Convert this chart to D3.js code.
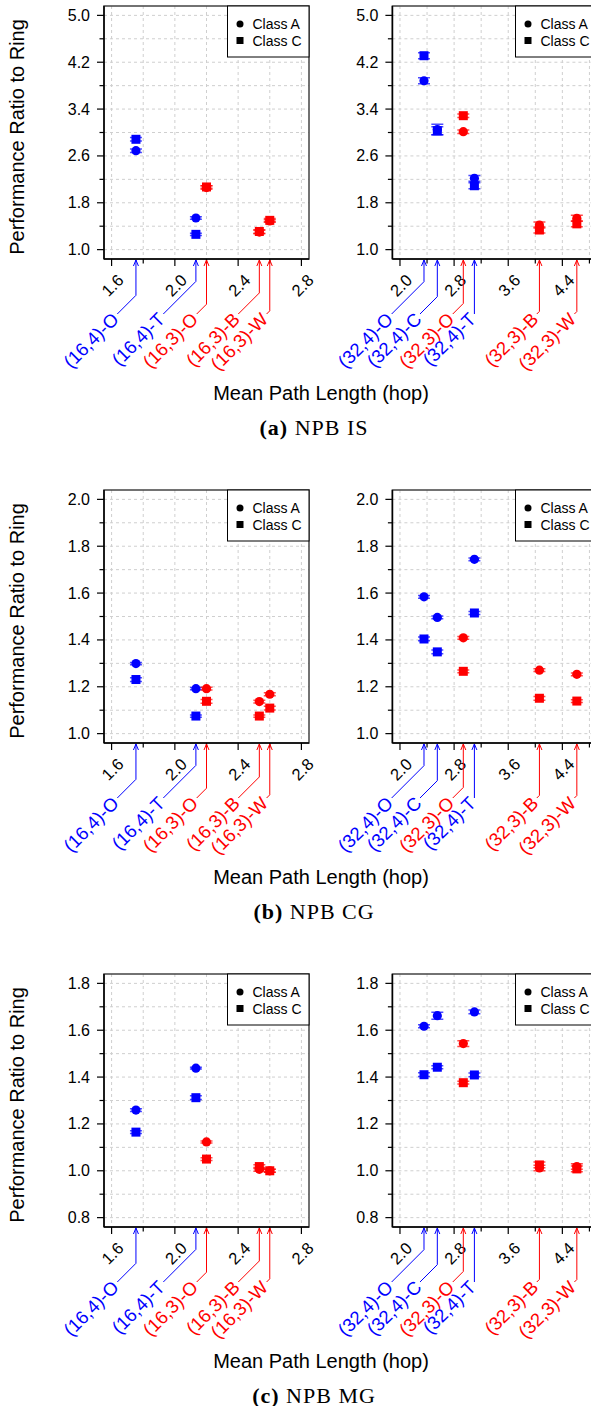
<!DOCTYPE html>
<html>
<head>
<meta charset="utf-8">
<script src="https://d3js.org/d3.v7.min.js"></script>
<style>
body { margin: 0; background: #fff; }
svg { display: block; font-family: "Liberation Sans", Arial, sans-serif; }
</style>
</head>
<body>
<svg></svg>
<script>
var w = 591, h = 1406
var blue = "#0000ff", red = "#ff0000"

// topologies, colours and mean path length (hop)
var names16 = ["(16,4)-O", "(16,4)-T", "(16,3)-O", "(16,3)-B", "(16,3)-W"]
var colors16 = [blue, blue, red, red, red]
var mpl16 = [1.754, 2.133, 2.2, 2.534, 2.6]
var labelAt16 = [1.636, 1.927, 2.138, 2.401, 2.58]   // where each label text ends

var names32 = ["(32,4)-O", "(32,4)-C", "(32,3)-O", "(32,4)-T", "(32,3)-B", "(32,3)-W"]
var colors32 = [blue, blue, red, blue, red, red]
var mpl32 = [2.355, 2.552, 2.936, 3.1, 4.061, 4.614]
var labelAt32 = [1.877, 2.296, 2.78, 3.1, 4.022, 4.578]

// x ticks
var xTicks16 = [1.6, 1.8, 2.0, 2.2, 2.4, 2.6, 2.8]
var xLabels16 = [1.6, 2.0, 2.4, 2.8]
var xTicks32 = [2.0, 2.4, 2.8, 3.2, 3.6, 4.0, 4.4, 4.8]
var xLabels32 = [2.0, 2.8, 3.6, 4.4]

// (a) NPB IS
var isYTicks = [1.0, 1.4, 1.8, 2.2, 2.6, 3.0, 3.4, 3.8, 4.2, 4.6, 5.0]
var isYLabels = [1.0, 1.8, 2.6, 3.4, 4.2, 5.0]
var isA16 = [2.689, 1.54, 2.06, 1.30, 1.49]
var isA16err = [0.03, 0.02, 0.03, 0.03, 0.02]
var isC16 = [2.884, 1.261, 2.07, 1.31, 1.50]
var isC16err = [0.03, 0.02, 0.02, 0.03, 0.03]
var isA32 = [3.884, 3.05, 3.014, 2.217, 1.42, 1.535]
var isA32err = [0.05, 0.09, 0.03, 0.05, 0.05, 0.05]
var isC32 = [4.311, 3.03, 3.287, 2.091, 1.335, 1.44]
var isC32err = [0.05, 0.07, 0.03, 0.05, 0.05, 0.05]

// (b) NPB CG
var cgYTicks = [1.0, 1.1, 1.2, 1.3, 1.4, 1.5, 1.6, 1.7, 1.8, 1.9, 2.0]
var cgYLabels = [1.0, 1.2, 1.4, 1.6, 1.8, 2.0]
var cgA16 = [1.299, 1.192, 1.192, 1.137, 1.168]
var cgA16err = [0.005, 0.005, 0.006, 0.006, 0.006]
var cgC16 = [1.231, 1.075, 1.138, 1.075, 1.109]
var cgC16err = [0.008, 0.005, 0.008, 0.005, 0.008]
var cgA32 = [1.584, 1.496, 1.409, 1.744, 1.271, 1.253]
var cgA32err = [0.006, 0.006, 0.006, 0.006, 0.006, 0.006]
var cgC32 = [1.404, 1.349, 1.266, 1.515, 1.151, 1.139]
var cgC32err = [0.008, 0.008, 0.006, 0.006, 0.008, 0.006]

// (c) NPB MG
var mgYTicks = [0.8, 0.9, 1.0, 1.1, 1.2, 1.3, 1.4, 1.5, 1.6, 1.7, 1.8]
var mgYLabels = [0.8, 1.0, 1.2, 1.4, 1.6, 1.8]
var mgA16 = [1.259, 1.438, 1.123, 1.006, 1.0]
var mgA16err = [0.006, 0.004, 0.004, 0.008, 0.006]
var mgC16 = [1.165, 1.312, 1.05, 1.018, 1.0]
var mgC16err = [0.006, 0.008, 0.006, 0.008, 0.006]
var mgA32 = [1.617, 1.662, 1.543, 1.678, 1.012, 1.018]
var mgA32err = [0.006, 0.015, 0.012, 0.008, 0.012, 0.012]
var mgC32 = [1.41, 1.442, 1.376, 1.409, 1.025, 1.008]
var mgC32err = [0.008, 0.006, 0.006, 0.008, 0.012, 0.012]

var svg = d3.select("svg")
    .attr("width", w)
    .attr("height", h)

svg.append("rect")
    .attr("width", "100%")
    .attr("height", "100%")
    .attr("fill", "#fff")

var fmt = d3.format(".1f")
var plotH = 253

// R style: 4% padding around the limits
function padded(lo, hi)
{
    var p = (hi - lo) * 0.04
    return [lo - p, hi + p]
}

function draw_plot(top, left, right, xlim, xTicks, xLabels, ylim, yTicks, yLabels,
                   names, colors, mpl, labelAt, A, Aerr, C, Cerr)
{
    var bottom = top + plotH
    var x = d3.scaleLinear().domain(padded(xlim[0], xlim[1])).range([left, right])
    var y = d3.scaleLinear().domain(padded(ylim[0], ylim[1])).range([bottom, top])
    var g = svg.append("g")

    // dashed grid on every tick
    g.selectAll(".vgrid").data(xTicks).enter().append("line")
        .attr("x1", d => x(d)).attr("x2", d => x(d))
        .attr("y1", top).attr("y2", bottom)
        .attr("stroke", "#cfcfcf").attr("stroke-dasharray", "3,3")
    g.selectAll(".hgrid").data(yTicks).enter().append("line")
        .attr("x1", left).attr("x2", right)
        .attr("y1", d => y(d)).attr("y2", d => y(d))
        .attr("stroke", "#cfcfcf").attr("stroke-dasharray", "3,3")

    // frame
    g.append("rect")
        .attr("x", left).attr("y", top)
        .attr("width", right - left).attr("height", plotH)
        .attr("fill", "none").attr("stroke", "#444").attr("stroke-width", 1.5)
    g.append("line").attr("x1", left).attr("x2", left).attr("y1", top).attr("y2", bottom)
        .attr("stroke", "#000").attr("stroke-width", 1.5)
    g.append("line").attr("x1", left).attr("x2", right).attr("y1", bottom).attr("y2", bottom)
        .attr("stroke", "#000").attr("stroke-width", 1.5)

    // y ticks
    g.selectAll(".yt").data(yTicks).enter().append("line")
        .attr("x1", d => left - (yLabels.indexOf(d) >= 0 ? 7 : 4.5)).attr("x2", left)
        .attr("y1", d => y(d)).attr("y2", d => y(d))
        .attr("stroke", "#000").attr("stroke-width", 1.2)
    g.selectAll(".yl").data(yLabels).enter().append("text")
        .attr("x", left - 14).attr("y", d => y(d))
        .attr("text-anchor", "end").attr("dominant-baseline", "central")
        .attr("font-size", 16)
        .text(d => fmt(d))

    // x ticks
    g.selectAll(".xt").data(xTicks).enter().append("line")
        .attr("x1", d => x(d)).attr("x2", d => x(d))
        .attr("y1", bottom).attr("y2", d => bottom + (xLabels.indexOf(d) >= 0 ? 7 : 4.5))
        .attr("stroke", "#000").attr("stroke-width", 1.2)
    g.selectAll(".xl").data(xLabels).enter().append("text")
        .attr("transform", d => "translate(" + (x(d) + 9) + "," + (bottom + 18) + ") rotate(-45)")
        .attr("text-anchor", "end").attr("dominant-baseline", "central")
        .attr("font-size", 16.5)
        .text(d => fmt(d))

    // topology labels with arrows up to the axis
    var ay = bottom + 55
    names.forEach(function(n, i) {
        var xm = x(mpl[i]), ax = x(labelAt[i])
        var ky = ay - (xm - ax)
        g.append("path")
            .attr("d", "M" + xm + "," + (bottom + 1) + "V" + ky + "L" + ax + "," + ay)
            .style("fill", "none").style("stroke", colors[i]).style("stroke-width", 1)
        g.append("path")
            .attr("d", "M" + (xm - 2.5) + "," + (bottom + 7) + "L" + xm + "," + (bottom + 1) + "L" + (xm + 2.5) + "," + (bottom + 7))
            .style("fill", "none").style("stroke", colors[i]).style("stroke-width", 1)
        g.append("text")
            .attr("transform", "translate(" + (ax - 2) + "," + (ay + 2) + ") rotate(-45)")
            .attr("text-anchor", "end").attr("dominant-baseline", "central")
            .attr("font-size", 18.5)
            .style("fill", colors[i])
            .text(n)
    })

    // error bars
    function errbar(vals, errs) {
        vals.forEach(function(v, i) {
            var xm = x(mpl[i]), y0 = y(v - errs[i]), y1 = y(v + errs[i])
            g.append("path")
                .attr("d", "M" + xm + "," + y0 + "V" + y1 +
                    "M" + (xm - 6) + "," + y0 + "H" + (xm + 6) +
                    "M" + (xm - 6) + "," + y1 + "H" + (xm + 6))
                .attr("fill", "none").attr("stroke", colors[i])
                .attr("stroke-opacity", 0.7).attr("stroke-width", 1.5)
        })
    }
    errbar(A, Aerr)
    errbar(C, Cerr)

    // Class A circles, Class C squares
    g.selectAll(".ca").data(A).enter().append("circle")
        .attr("cx", (d, i) => x(mpl[i])).attr("cy", d => y(d))
        .attr("r", 4.6)
        .attr("fill", (d, i) => colors[i])
    g.selectAll(".cc").data(C).enter().append("rect")
        .attr("x", (d, i) => x(mpl[i]) - 4.5).attr("y", d => y(d) - 4.5)
        .attr("width", 9).attr("height", 9)
        .attr("fill", (d, i) => colors[i])

    // legend
    var lg = g.append("g").attr("transform", "translate(" + (right - 81.5) + "," + top + ")")
    lg.append("rect")
        .attr("width", 81.5).attr("height", 51)
        .attr("fill", "#fff").attr("stroke", "#000").attr("stroke-width", 1)
    lg.append("circle").attr("cx", 12.5).attr("cy", 18).attr("r", 3.5).attr("fill", "#000")
    lg.append("rect").attr("x", 9).attr("y", 31).attr("width", 7).attr("height", 7).attr("fill", "#000")
    lg.append("text").attr("x", 25).attr("y", 18).attr("dominant-baseline", "central")
        .attr("font-size", 14).text("Class A")
    lg.append("text").attr("x", 25).attr("y", 34.5).attr("dominant-baseline", "central")
        .attr("font-size", 14).text("Class C")
}

function draw_panel(top, letter, title, ylim, yTicks, yLabels, A16, A16err, C16, C16err, A32, A32err, C32, C32err)
{
    draw_plot(top, 104, 309, [1.6, 2.8], xTicks16, xLabels16, ylim, yTicks, yLabels,
        names16, colors16, mpl16, labelAt16, A16, A16err, C16, C16err)
    draw_plot(top, 392.4, 597, [2.0, 4.8], xTicks32, xLabels32, ylim, yTicks, yLabels,
        names32, colors32, mpl32, labelAt32, A32, A32err, C32, C32err)

    svg.append("text")
        .attr("transform", "translate(17," + (top + 131) + ") rotate(-90)")
        .attr("text-anchor", "middle").attr("dominant-baseline", "central")
        .attr("font-size", 20)
        .text("Performance Ratio to Ring")
    svg.append("text")
        .attr("x", 321).attr("y", top + plotH + 134)
        .attr("text-anchor", "middle").attr("dominant-baseline", "central")
        .attr("font-size", 20)
        .text("Mean Path Length (hop)")
    var cap = svg.append("text")
        .attr("x", 314).attr("y", top + plotH + 168)
        .attr("text-anchor", "middle").attr("dominant-baseline", "central")
        .attr("font-family", "'Liberation Serif', 'Times New Roman', serif")
        .attr("font-size", 22)
        .attr("letter-spacing", 1)
    cap.append("tspan").attr("font-weight", "bold").text("(" + letter + ")")
    cap.append("tspan").text(" " + title)
}

draw_panel(6, "a", "NPB IS", [1.0, 5.0], isYTicks, isYLabels,
    isA16, isA16err, isC16, isC16err, isA32, isA32err, isC32, isC32err)
draw_panel(490, "b", "NPB CG", [1.0, 2.0], cgYTicks, cgYLabels,
    cgA16, cgA16err, cgC16, cgC16err, cgA32, cgA32err, cgC32, cgC32err)
draw_panel(974, "c", "NPB MG", [0.8, 1.8], mgYTicks, mgYLabels,
    mgA16, mgA16err, mgC16, mgC16err, mgA32, mgA32err, mgC32, mgC32err)
</script>
</body>
</html>
